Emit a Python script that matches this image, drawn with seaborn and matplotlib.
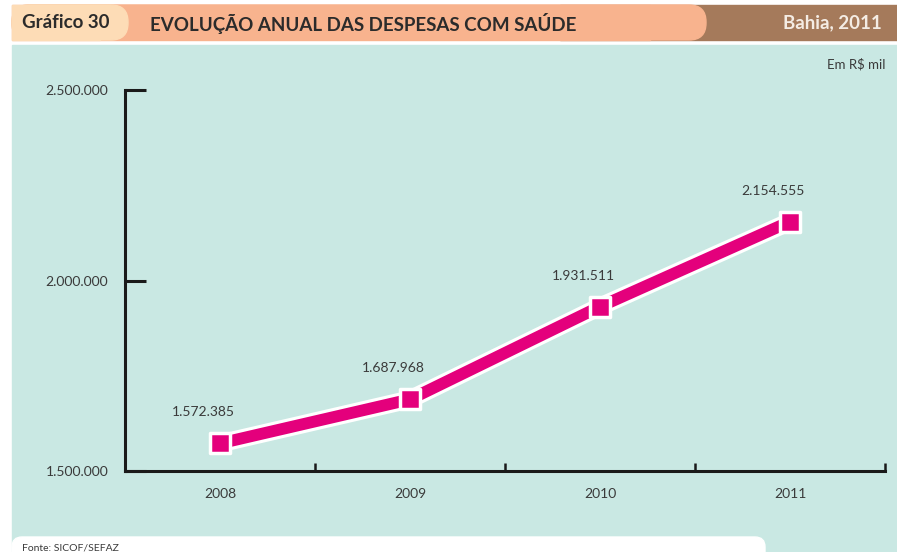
import numpy as np
import pandas as pd
import seaborn as sns
import matplotlib.pyplot as plt
import matplotlib.patheffects as pe
from matplotlib.patches import FancyBboxPatch, Rectangle
from matplotlib.transforms import Affine2D

years = ["2008", "2009", "2010", "2011"]
despesas = [1572385, 1687968, 1931511, 2154555]
y_ticks = [1500000, 2000000, 2500000]
y_tick_labels = ["1.500.000", "2.000.000", "2.500.000"]
value_labels = ["1.572.385", "1.687.968", "1.931.511", "2.154.555"]

W, H = 897, 552
BG = "#c9e8e3"
MAGENTA = "#e4007c"
TXT = "#3a3a3a"

sns.set_theme(style="white")
plt.rcParams["font.family"] = ["Lato", "DejaVu Sans"]

df = pd.DataFrame({"ano": np.arange(len(years)), "valor": despesas})

fig = plt.figure(figsize=(W / 100, H / 100), dpi=100)
fig.patch.set_facecolor("white")

# pixel coordinates, origin top-left
px = Affine2D().scale(1 / W, -1 / H).translate(0, 1) + fig.transFigure


def rect(x0, y0, x1, y1, color, z):
    fig.patches.append(Rectangle((x0, y0), x1 - x0, y1 - y0, transform=px,
                                 color=color, zorder=z))


def rbox(x0, y0, x1, y1, color, z, r):
    fig.patches.append(FancyBboxPatch((x0, y0), x1 - x0, y1 - y0,
                                      boxstyle=f"round,pad=0,rounding_size={r}",
                                      transform=px, color=color, zorder=z))


# teal panel
rect(12, 45, 897, 552, BG, 0)
# header bars
rect(560, 5, 897, 40, "#a57a5b", 1)
rbox(12, 5, 706, 40, "#f8b38e", 2, 17)
rect(12, 5, 650, 40, "#f8b38e", 2)
rbox(12, 5, 128, 40, "#fddcb6", 3, 17)
rect(12, 5, 100, 40, "#fddcb6", 3)
# source strip
rbox(12, 537, 765, 575, "white", 1, 10)

fig.text(22 / W, 1 - 23 / H, "Gráfico 30", fontsize=13.5, fontweight="bold",
         color="#2b2b2b", va="center", zorder=5)
fig.text(150 / W, 1 - 23 / H, "EVOLUÇÃO ANUAL DAS DESPESAS COM SAÚDE",
         fontsize=13.5, fontweight="bold", color="#2b2b2b", va="center", zorder=5)
fig.text(882 / W, 1 - 23 / H, "Bahia, 2011", fontsize=13.5, fontweight="bold",
         color="#f4ece4", va="center", ha="right", zorder=5)
fig.text(885 / W, 1 - 64 / H, "Em R$ mil", fontsize=9.5, color=TXT, va="center",
         ha="right", zorder=5)
fig.text(22 / W, 1 - 548 / H, "Fonte: SICOF/SEFAZ", fontsize=7.5, color=TXT,
         va="center", zorder=5)

ax = fig.add_axes([125 / W, 1 - 471 / H, 760 / W, 381 / H])
ax.set_zorder(10)
ax.set_facecolor("none")

# thick line with white outline
sns.lineplot(data=df, x="ano", y="valor", ax=ax, color=MAGENTA, linewidth=8.5,
             zorder=3, clip_on=False,
             path_effects=[pe.Stroke(linewidth=13, foreground="white"), pe.Normal()])
# square markers
sns.scatterplot(data=df, x="ano", y="valor", ax=ax, color=MAGENTA, marker="s",
                s=190, edgecolor="white", linewidth=2.5, zorder=4, clip_on=False)

for i, (v, lab) in enumerate(zip(despesas, value_labels)):
    ax.annotate(lab, (i, v), xytext=(-12, 18), textcoords="offset points",
                ha="center", va="bottom", fontsize=10, color=TXT)

ax.set_xlim(-0.5, 3.5)
ax.set_ylim(1500000, 2500000)
ax.set_xticks(range(len(years)))
ax.set_xticklabels(years)
ax.set_xticks([0.5, 1.5, 2.5, 3.5], minor=True)
ax.set_yticks(y_ticks)
ax.set_yticklabels(y_tick_labels)
ax.set_xlabel("")
ax.set_ylabel("")

for s in ["top", "right"]:
    ax.spines[s].set_visible(False)
for s in ["left", "bottom"]:
    ax.spines[s].set_color("#1a1a1a")
    ax.spines[s].set_linewidth(2.2)

ax.tick_params(axis="y", left=True, direction="in", length=15, width=2.2,
               color="#1a1a1a", pad=12, labelsize=10, labelcolor=TXT)
ax.tick_params(axis="x", which="major", bottom=False, length=0, pad=12,
               labelsize=10, labelcolor=TXT)
ax.tick_params(axis="x", which="minor", bottom=True, direction="in", length=6,
               width=1.8, color="#1a1a1a")

fig.savefig("out.png", dpi=100)
